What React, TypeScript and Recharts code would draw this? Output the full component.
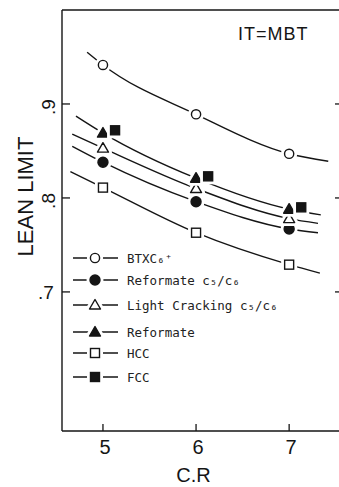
import { ComposedChart, Line, Scatter, XAxis, YAxis, ReferenceLine } from 'recharts'

// compression ratio positions of the measured points
const crValues = [5, 6, 7]
// FCC squares are drawn just right of the Reformate triangles
const fccCr = [5.13, 6.13, 7.13]

// lean limit values
const btxc = [0.9415, 0.889, 0.847]
const reformateC5C6 = [0.838, 0.796, 0.767]
const lightCracking = [0.853, 0.81, 0.778]
const reformate = [0.869, 0.821, 0.788]
const hcc = [0.811, 0.763, 0.729]
const fcc = [0.872, 0.823, 0.79]

// where each fitted curve starts and ends ([cr, lean limit])
const btxcEnds = [[4.83, 0.955], [7.42, 0.839]]
const reformateEnds = [[4.71, 0.887], [7.34, 0.782]]
const lightCrackingEnds = [[4.67, 0.868], [7.31, 0.773]]
const reformateC5C6Ends = [[4.67, 0.855], [7.31, 0.763]]
const hccEnds = [[4.65, 0.828], [7.33, 0.72]]

const yTicks = [0.7, 0.8, 0.9]
const xTicks = [5, 6, 7]

const INK = '#151515'
const SANS = 'Liberation Sans, Arial, sans-serif'

type Kind = 'circleOpen' | 'circleFilled' | 'triOpen' | 'triFilled' | 'sqOpen' | 'sqFilled'

const series: { name: string; kind: Kind; xs: number[]; values: number[]; ends?: number[][] }[] = [
  { name: 'BTXC₆⁺', kind: 'circleOpen', xs: crValues, values: btxc, ends: btxcEnds },
  { name: 'Reformate  c₅/c₆', kind: 'circleFilled', xs: crValues, values: reformateC5C6, ends: reformateC5C6Ends },
  { name: 'Light Cracking c₅/c₆', kind: 'triOpen', xs: crValues, values: lightCracking, ends: lightCrackingEnds },
  { name: 'Reformate', kind: 'triFilled', xs: crValues, values: reformate, ends: reformateEnds },
  { name: 'HCC', kind: 'sqOpen', xs: crValues, values: hcc, ends: hccEnds },
  { name: 'FCC', kind: 'sqFilled', xs: fccCr, values: fcc },
]

function shapeEl(kind: Kind, cx: number, cy: number, fill: string, stroke: string, sw: number) {
  if (kind === 'circleOpen' || kind === 'circleFilled') {
    return <circle cx={cx} cy={cy} r={kind === 'circleFilled' ? 5 : 4.6} fill={fill} stroke={stroke} strokeWidth={sw} />
  }
  if (kind === 'triOpen' || kind === 'triFilled') {
    const pts = `${cx},${cy - 5.5} ${cx - 5.5},${cy + 4} ${cx + 5.5},${cy + 4}`
    return <polygon points={pts} fill={fill} stroke={stroke} strokeWidth={sw} strokeLinejoin="round" />
  }
  return <rect x={cx - 4.5} y={cy - 4.5} width={9} height={9} fill={fill} stroke={stroke} strokeWidth={sw} />
}

function Marker({ cx, cy, kind, halo = true }: { cx: number; cy: number; kind: Kind; halo?: boolean }) {
  const filled = kind.endsWith('Filled')
  return (
    <g>
      {halo && shapeEl(kind, cx, cy, '#fff', '#fff', 7)}
      {shapeEl(kind, cx, cy, filled ? INK : '#fff', INK, 1.4)}
    </g>
  )
}

const LeftTick = (props: any) => {
  const { x, y, payload } = props
  const upright = payload.value === 0.7
  const label = '.' + Math.round(payload.value * 10)
  return (
    <g>
      <line x1={x} x2={x + 8} y1={y} y2={y} stroke={INK} strokeWidth={1.3} />
      {upright ? (
        <text x={x - 16} y={y + 1} textAnchor="middle" dominantBaseline="central" fontSize={19} fill={INK}
          fontFamily={SANS}>{label}</text>
      ) : (
        <text x={x - 13} y={y + 3} textAnchor="middle" dominantBaseline="central" fontSize={19} fill={INK}
          fontFamily={SANS} transform={`rotate(-90, ${x - 13}, ${y + 3})`}>{label}</text>
      )}
    </g>
  )
}

const RightTick = (props: any) => {
  const { x, y } = props
  return <line x1={x - 10} x2={x} y1={y} y2={y} stroke={INK} strokeWidth={1.3} />
}

const BottomTick = (props: any) => {
  const { x, y, payload } = props
  return (
    <g>
      <line x1={x} x2={x} y1={y} y2={y - 7} stroke={INK} strokeWidth={1.3} />
      <text x={x + 2} y={y + 16} textAnchor="middle" dominantBaseline="central" fontSize={20} fill={INK}
        fontFamily={SANS}>{payload.value}</text>
    </g>
  )
}

const legendRows = [12, 34, 59, 86, 107, 131]

function ChartLegend() {
  return (
    <svg width={240} height={145}>
      {series.map((s, i) => (
        <g key={s.name}>
          <line x1={3} x2={48} y1={legendRows[i]} y2={legendRows[i]} stroke={INK} strokeWidth={1.4} />
          <Marker cx={25} cy={legendRows[i]} kind={s.kind} />
          <text x={57} y={legendRows[i]} dominantBaseline="central" fontSize={12.5} fill="#222"
            fontFamily="DejaVu Sans Mono, Liberation Mono, monospace">{s.name}</text>
        </g>
      ))}
    </svg>
  )
}

export default function App() {
  const curves = series.filter(s => s.ends).map(s => ({
    name: s.name,
    data: [
      { x: s.ends![0][0], y: s.ends![0][1] },
      ...s.xs.map((x, i) => ({ x, y: s.values[i] })),
      { x: s.ends![1][0], y: s.ends![1][1] },
    ],
  }))
  const points = series.map(s => ({
    name: s.name,
    kind: s.kind,
    data: s.xs.map((x, i) => ({ x, y: s.values[i] })),
  }))

  return (
    <div style={{ position: 'absolute', left: 0, top: 0, width: 339, height: 487, overflow: 'hidden', background: '#fff' }}>
      <ComposedChart width={360} height={487} margin={{ top: 10, right: 0, bottom: 0, left: 0 }}>
        <XAxis dataKey="x" type="number" domain={[4.56, 7.6]} ticks={xTicks} allowDataOverflow
          height={56} tickSize={0} tickMargin={0} tickLine={false} tick={<BottomTick />}
          axisLine={{ stroke: INK, strokeWidth: 1.4 }}
          label={{ value: 'C.R', position: 'insideBottom', offset: 0, dx: -10, dy: -5, fontSize: 20, fill: INK,
            fontFamily: SANS }} />
        <YAxis type="number" domain={[0.552, 1.0]} ticks={yTicks} allowDataOverflow width={62}
          tickSize={0} tickMargin={0} tickLine={false} tick={<LeftTick />}
          axisLine={{ stroke: INK, strokeWidth: 1.4 }}
          label={{ value: 'LEAN LIMIT', angle: -90, position: 'insideLeft', dx: 20, dy: -24, fontSize: 22, fill: INK,
            fontFamily: SANS, style: { textAnchor: 'middle' } }} />
        <YAxis yAxisId="right" orientation="right" type="number" domain={[0.552, 1.0]} ticks={yTicks}
          allowDataOverflow width={15} tickSize={0} tickMargin={0} tickLine={false} tick={<RightTick />}
          axisLine={{ stroke: INK, strokeWidth: 1.4 }} />
        <ReferenceLine y={1.0} stroke={INK} strokeWidth={1.4} ifOverflow="extendDomain" />
        {curves.map(c => (
          <Line key={c.name} data={c.data} dataKey="y" type="monotone" dot={false} activeDot={false}
            stroke={INK} strokeWidth={1.4} isAnimationActive={false} legendType="none" />
        ))}
        {points.map(p => (
          <Scatter key={p.name} name={p.name} data={p.data} dataKey="y" isAnimationActive={false}
            shape={(props: any) => <Marker cx={props.cx} cy={props.cy} kind={p.kind} />} />
        ))}
      </ComposedChart>
      <div style={{ position: 'absolute', left: 70, top: 246 }}>
        <ChartLegend />
      </div>
      <div style={{ position: 'absolute', left: 238, top: 24, fontSize: 18, color: INK,
        fontFamily: SANS, letterSpacing: 1 }}>IT=MBT</div>
    </div>
  )
}
